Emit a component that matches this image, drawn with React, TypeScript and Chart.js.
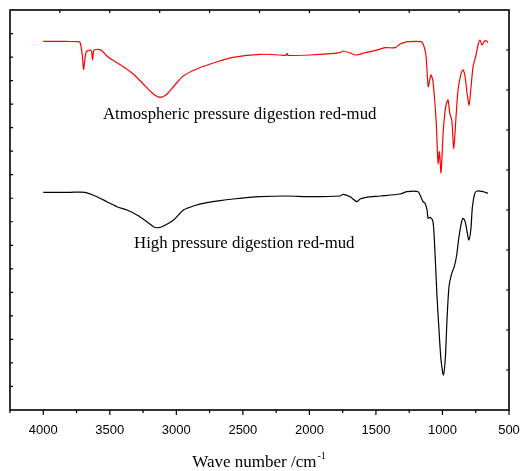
import React, { useEffect, useRef } from "react";
import { Chart, registerables } from "chart.js";

Chart.register(...registerables);

// Wavenumbers (cm^-1) and relative transmittance (arbitrary units, offset traces)
const atmWave = [
  4000, 3872, 3797, 3737, 3722, 3707, 3697, 3688, 3677, 3647, 3636, 3630, 3623, 3617,
  3587, 3559, 3522, 3459, 3399, 3324, 3249, 3181, 3144, 3121, 3098, 3069, 3024, 2948,
  2843, 2693, 2573, 2370, 2220, 2175, 2167, 2160, 1995, 1769, 1747, 1694, 1649, 1574,
  1506, 1431, 1356, 1318, 1281, 1266, 1161, 1138, 1123, 1110, 1106, 1086, 1071, 1048,
  1033, 1023, 1011, 995, 985, 973, 958, 945, 930, 915, 898, 883, 860, 845, 830, 815,
  800, 785, 770, 748, 733, 718, 703, 688, 673, 658,
];
const atmValue = [
  368.7, 368.7, 368.5, 368.3, 367, 355, 340.7, 350, 358, 360, 358, 350, 358, 360,
  360.7, 359.3, 354, 348.3, 343.3, 336, 326, 317, 313.5, 312.7, 313.5, 316, 323, 334,
  341.3, 348.3, 352.7, 355.7, 355, 354.7, 356.7, 354.7, 355, 357.3, 359, 357, 355, 357.7,
  359.3, 362.3, 362.3, 366, 367.7, 368.3, 368.3, 363.3, 353.3, 326.7, 323.3, 335, 328.3, 290,
  246.7, 258.3, 237.3, 277, 293.3, 305, 310, 296.7, 290, 261.7, 293.3, 320, 336.7, 340, 333.3, 316.7,
  305, 323.3, 343.3, 355, 365, 370, 365, 368.3, 369.3, 367.3,
];

const highWave = [
  4000, 3797, 3685, 3597, 3522, 3446, 3371, 3296, 3221, 3172, 3134, 3096, 3021, 2946,
  2871, 2770, 2671, 2573, 2370, 2167, 1995, 1769, 1747, 1694, 1644, 1619, 1574, 1469,
  1318, 1266, 1183, 1163, 1146, 1131, 1116, 1108, 1093, 1071, 1056, 1041, 1026, 1011,
  993, 978, 966, 951, 930, 911, 893, 876, 856, 845, 830, 815, 802, 787, 775, 757, 740,
  695, 658,
];
const highValue = [
  217.7, 217.7, 217.7, 213.3, 208.3, 203.3, 200, 195, 188.3, 183.3, 182.3, 184, 190, 200,
  204, 207.3, 209.3, 211, 213.3, 214, 213.3, 214, 215.7, 213.3, 208.3, 211, 212.7, 214,
  216, 218.3, 218.3, 213.3, 208.3, 206.7, 200, 191.7, 192.7, 188.3, 156.7, 113.3, 80, 50,
  35, 53.3, 90, 123.3, 136.7, 143.3, 155, 173.3, 188.3, 191.7, 188.3, 178.3, 170, 180, 203.3, 216.7, 219,
  218.3, 216.7,
];

const xMajorTicks = [4000, 3500, 3000, 2500, 2000, 1500, 1000, 500];
const xMinorTicks = [4250, 3750, 3250, 2750, 2250, 1750, 1250, 750];
const seriesLabels = ["Atmospheric pressure digestion red-mud", "High pressure digestion red-mud"];
const labelAnchors = [
  { x: 3552, y: 291 },
  { x: 3318, y: 162 },
];
const axisTitle = "Wave number /cm";
const axisTitleSup = "-1";

const framePlugin = {
  id: "framePlugin",
  afterDraw(chart: any) {
    const { ctx, chartArea, scales } = chart;
    const { left, right, top, bottom } = chartArea;
    const x = scales.x;
    const y = scales.y;
    const x2 = scales.x2;
    const y2 = scales.y2;
    ctx.save();
    ctx.strokeStyle = "#000";
    ctx.lineWidth = 1.6;
    ctx.strokeRect(left, top, right - left, bottom - top);

    ctx.lineWidth = 1.2;
    ctx.beginPath();
    // bottom major (outward)
    xMajorTicks.forEach((v) => {
      const px = x.getPixelForValue(v);
      ctx.moveTo(px, bottom);
      ctx.lineTo(px, bottom + 5);
    });
    xMinorTicks.forEach((v) => {
      const px = x.getPixelForValue(v);
      ctx.moveTo(px, bottom);
      ctx.lineTo(px, bottom + 3);
    });
    // left ticks (inward), 17 divisions
    for (let i = 1; i < 17; i++) {
      const py = y.getPixelForValue((i * 400) / 17);
      ctx.moveTo(left, py);
      ctx.lineTo(left + 3, py);
    }
    // right ticks (inward), 10 divisions
    for (let i = 1; i < 10; i++) {
      const py = y2.getPixelForValue(i);
      ctx.moveTo(right, py);
      ctx.lineTo(right - 3, py);
    }
    // top ticks (inward), 10 divisions
    for (let i = 1; i < 10; i++) {
      const px = x2.getPixelForValue(i);
      ctx.moveTo(px, top);
      ctx.lineTo(px, top + 3);
    }
    ctx.stroke();

    // tick labels
    ctx.fillStyle = "#000";
    ctx.font = "13px 'Liberation Sans', Arial, sans-serif";
    ctx.textAlign = "center";
    ctx.textBaseline = "middle";
    xMajorTicks.forEach((v) => {
      ctx.fillText(String(v), x.getPixelForValue(v), bottom + 20);
    });

    // axis title with superscript
    ctx.font = "17px 'Liberation Serif', 'Times New Roman', serif";
    ctx.textBaseline = "alphabetic";
    ctx.textAlign = "left";
    const w = ctx.measureText(axisTitle).width;
    ctx.font = "10px 'Liberation Serif', 'Times New Roman', serif";
    const ws = ctx.measureText(axisTitleSup).width;
    const cx = (left + right) / 2;
    const startX = cx - (w + ws) / 2 - 1;
    ctx.font = "17px 'Liberation Serif', 'Times New Roman', serif";
    ctx.fillText(axisTitle, startX, bottom + 57);
    ctx.font = "10px 'Liberation Serif', 'Times New Roman', serif";
    ctx.fillText(axisTitleSup, startX + w + 1, bottom + 49);

    // series labels
    ctx.font = "16.8px 'Liberation Serif', 'Times New Roman', serif";
    seriesLabels.forEach((t, i) => {
      const a = labelAnchors[i];
      ctx.fillText(t, x.getPixelForValue(a.x), y.getPixelForValue(a.y));
    });
    ctx.restore();
  },
};

export default function App() {
  const ref = useRef<HTMLCanvasElement>(null);
  useEffect(() => {
    if (!ref.current) return;
    const chart = new Chart(ref.current, {
      type: "line",
      data: {
        datasets: [
          {
            label: seriesLabels[0],
            data: atmWave.map((w, i) => ({ x: w, y: atmValue[i] })),
            borderColor: "#ff0000",
            borderWidth: 1.2,
            pointRadius: 0,
            tension: 0.25,
            fill: false,
          },
          {
            label: seriesLabels[1],
            data: highWave.map((w, i) => ({ x: w, y: highValue[i] })),
            borderColor: "#000000",
            borderWidth: 1.2,
            pointRadius: 0,
            tension: 0.25,
            fill: false,
          },
        ],
      },
      options: {
        animation: false,
        responsive: true,
        maintainAspectRatio: false,
        layout: { padding: { left: 10, top: 10, right: 11, bottom: 61 } },
        scales: {
          x: { type: "linear", reverse: true, min: 500, max: 4250, display: false },
          y: { type: "linear", min: 0, max: 400, display: false },
          x2: { type: "linear", min: 0, max: 10, display: false, position: "top" },
          y2: { type: "linear", min: 0, max: 10, display: false, position: "right" },
        },
        plugins: { legend: { display: false }, tooltip: { enabled: false } },
      },
      plugins: [framePlugin],
    });
    return () => chart.destroy();
  }, []);
  return (
    <div style={{ position: "fixed", left: 0, top: 0, width: 520, height: 471, background: "#fff" }}>
      <canvas ref={ref} />
    </div>
  );
}
